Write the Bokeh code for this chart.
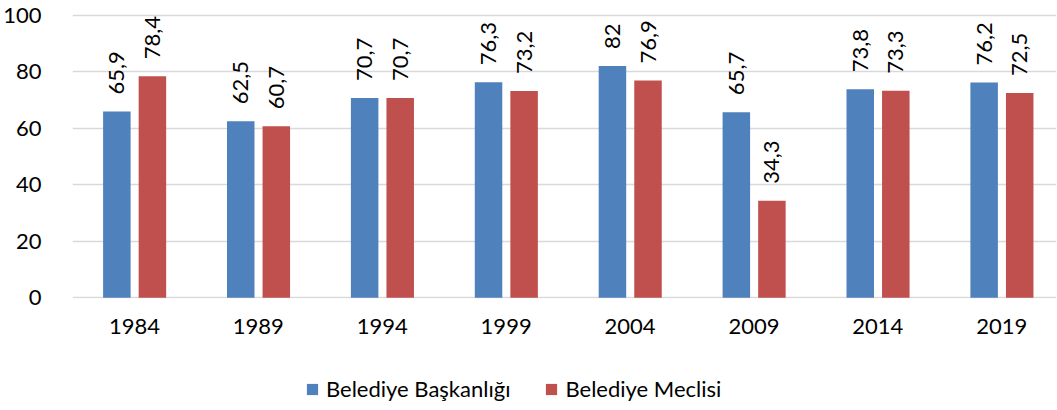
import numpy as np
from bokeh.plotting import figure
from bokeh.layouts import column
from bokeh.models import ColumnDataSource, FixedTicker, Range1d, Legend, LegendItem
from bokeh.core.properties import value
from bokeh.embed import file_html
from bokeh.resources import INLINE

years = ["1984", "1989", "1994", "1999", "2004", "2009", "2014", "2019"]
baskanlik = [65.9, 62.5, 70.7, 76.3, 82, 65.7, 73.8, 76.2]
meclis = [78.4, 60.7, 70.7, 73.2, 76.9, 34.3, 73.3, 72.5]
series_names = ["Belediye Başkanlığı", "Belediye Meclisi"]
colors = ["#4F81BD", "#C0504D"]

FONT = "Lato"

def fmt(v):
    return f"{v:g}".replace(".", ",")

idx = np.arange(len(years))
p = figure(frame_width=984, frame_height=290,
           output_backend="svg", toolbar_location=None,
           x_range=Range1d(-0.5, 7.442), y_range=Range1d(-0.3, 102.4),
           min_border_top=8, min_border_left=65, min_border_right=0, min_border_bottom=0)
p.outline_line_color = None
p.background_fill_color = "white"

for k, (vals, off) in enumerate([(baskanlik, -0.142), (meclis, 0.145)]):
    src = ColumnDataSource(dict(x=idx + off, top=vals, lab=[fmt(v) for v in vals]))
    p.vbar(x="x", top="top", bottom=0, width=0.222, source=src,
           fill_color=colors[k], line_color=None)
    p.text(x="x", y="top", text="lab", source=src, angle=np.pi / 2,
           text_align="left", text_baseline="middle", y_offset=-17,
           text_font=value(FONT), text_font_size="22px", text_color="#000000")

p.xgrid.visible = False
p.ygrid.grid_line_color = "#d9d9d9"
p.ygrid.grid_line_width = 1.5
p.yaxis.ticker = FixedTicker(ticks=[0, 20, 40, 60, 80, 100])
p.xaxis.ticker = FixedTicker(ticks=list(idx))
p.xaxis.major_label_overrides = {int(i): y for i, y in zip(idx, years)}
for ax in (p.xaxis, p.yaxis):
    ax.axis_line_color = None
    ax.major_tick_line_color = None
    ax.minor_tick_line_color = None
    ax.major_label_text_font = FONT
    ax.major_label_text_font_size = "22px"
    ax.major_label_text_color = "#000000"
p.yaxis.major_label_standoff = 25
p.xaxis.major_label_standoff = 14

# legend in its own strip below the chart
lf = figure(width=1049, height=66, output_backend="svg", toolbar_location=None,
            x_range=Range1d(0, 1), y_range=Range1d(0, 1),
            min_border=0, outline_line_color=None)
lf.axis.visible = False
lf.grid.visible = False
lrs = []
for k in range(2):
    lrs.append(lf.vbar(x=[-10], top=[-10], bottom=-11, width=1,
                       fill_color=colors[k], line_color=None))
legend = Legend(items=[LegendItem(label=series_names[i], renderers=[lrs[i]]) for i in range(2)],
                orientation="horizontal", location=(233, 0),
                label_text_font=FONT, label_text_font_size="22px", label_text_color="#000000",
                glyph_width=14, glyph_height=14, label_standoff=7, spacing=34,
                border_line_color=None, background_fill_alpha=0, padding=0, margin=0)
lf.add_layout(legend, "center")

layout = column(p, lf, spacing=0)
open("out.html", "w").write(file_html(layout, INLINE))
